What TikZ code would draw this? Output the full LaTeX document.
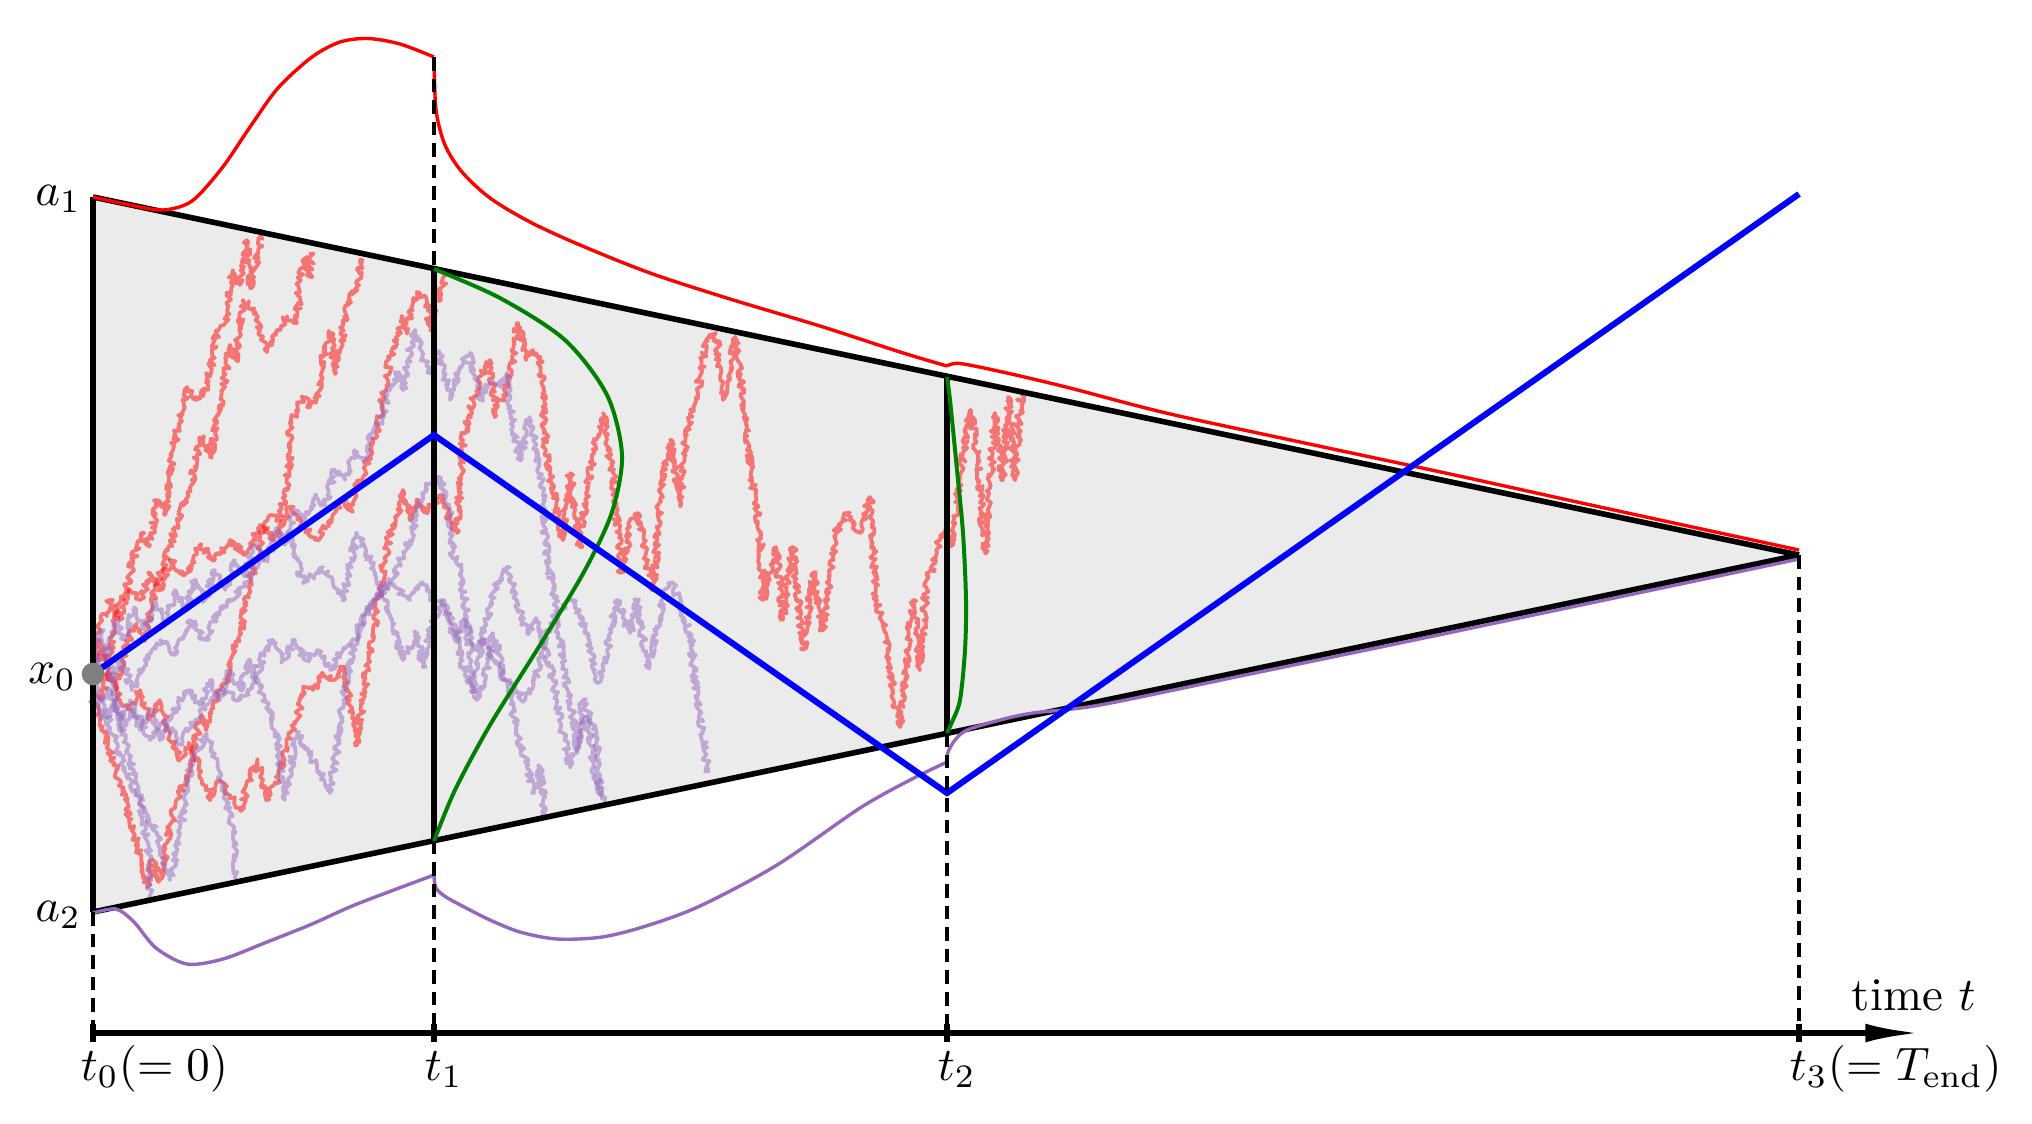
\documentclass[tikz,border=0pt]{standalone}
\usetikzlibrary{arrows.meta,decorations.pathmorphing}
\definecolor{fillgray}{HTML}{EBEBEB}
\definecolor{tabpurple}{HTML}{9467BD}
\definecolor{mplgreen}{HTML}{008000}
\definecolor{dotgray}{HTML}{808080}
\tikzset{
  bound/.style={line width=2.4pt, black},
  vdash/.style={line width=1.8pt, black, dash pattern=on 5.8pt off 3.4pt},
  walkred/.style={line width=1.6pt, red, opacity=0.5, line join=round, decorate, decoration={random steps, segment length=0.9pt, amplitude=1.5pt}},
  walkpur/.style={line width=1.6pt, tabpurple, opacity=0.5, line join=round, decorate, decoration={random steps, segment length=0.9pt, amplitude=1.5pt}},
  dens/.style={line width=1.45pt},
  lab/.style={inner sep=0pt, scale=2, transform shape},
}
\pgfmathsetseed{4242}
\begin{document}
\begin{tikzpicture}[x=0.015cm, y=-0.015cm]
\useasboundingbox (0,0) rectangle (2032,1123);
% key points
\coordinate (A1) at (93,197);
\coordinate (A2) at (93,912);
\coordinate (Tip) at (1799,555);
\coordinate (U1) at (434,268.6);
\coordinate (L1) at (434,840.6);
\coordinate (U2) at (947,376.2);
\coordinate (L2) at (947,733.3);
\coordinate (X0) at (93,674);
\coordinate (B1) at (434,435);
\coordinate (B2) at (947,793);
\coordinate (B3) at (1799,194);
\coordinate (R1end) at (434,57);
\coordinate (ax0) at (93,1033);
\coordinate (ax1) at (434,1033);
\coordinate (ax2) at (947,1033);
\coordinate (ax3) at (1799,1033);
\coordinate (axend) at (1920,1033);

% region
\fill[fillgray] (A1) -- (Tip) -- (A2) -- cycle;

% random walks, red
\draw[walkred] plot coordinates {(93,674) (100,655) (108,662) (118,610) (126,590) (133,560) (141,533) (150,545) (157,500) (165,515) (173,450) (180,420) (187,387) (196,400) (205,390) (213,357) (217,330) (227,317) (233,270) (240,285) (247,240) (250,287) (256,262) (263,232)};
\draw[walkred] plot coordinates {(93,690) (100,700) (108,672) (116,690) (125,650) (135,625) (145,640) (155,590) (165,560) (172,540) (178,520) (190,490) (198,450) (203,437) (210,457) (217,423) (223,390) (230,345) (236,360) (243,300) (253,310) (263,337) (267,352) (277,330) (287,317) (297,323) (300,277) (307,257) (310,277) (311,252)};
\draw[walkred] plot coordinates {(93,700) (100,720) (108,745) (116,770) (125,800) (133,830) (141,860) (147,887) (153,860) (160,880) (168,840) (176,800) (186,780) (193,760) (200,717) (206,730) (213,705) (220,690) (227,683) (233,650) (240,633) (250,583) (257,560) (263,533) (270,515) (280,520) (287,483) (290,450) (290,423) (297,410) (303,397) (310,407) (320,390) (323,357) (330,333) (336,373) (343,330) (350,300) (357,287) (360,258)};
\draw[walkred] plot coordinates {(93,660) (100,640) (110,680) (120,700) (130,710) (140,690) (150,720) (160,700) (170,735) (180,760) (190,745) (200,770) (210,800) (220,780) (230,795) (240,810) (250,780) (257,760) (266,800) (276,783) (283,760) (290,733) (297,720) (303,687) (313,690) (323,673) (333,680) (343,667) (350,700) (357,745) (363,700) (368,660) (373,633) (383,567) (390,533) (397,515) (403,490) (410,520) (418,500) (425,512) (433,505) (440,495) (450,520) (457,533) (460,480) (463,440) (473,400) (483,373) (490,360) (496,416) (503,395) (510,377) (518,323) (526,360) (533,350) (540,360) (546,450) (556,507) (563,540) (570,473) (575,510) (580,547) (586,493) (596,440) (603,413) (608,450) (613,473) (616,507) (621,573) (630,527) (638,513) (646,560) (653,590) (660,500) (670,440) (680,506) (686,433) (696,400) (706,340) (716,333) (723,400) (730,377) (735,337) (743,400) (752,480) (760,533) (763,600) (776,547) (783,620) (793,547) (803,650) (813,573) (823,630) (836,533) (846,513) (860,533) (870,497) (876,600) (886,633) (893,690) (900,727) (913,600) (920,670) (926,587) (940,540) (947,530) (953,545) (960,477) (970,410) (976,443) (985,553) (990,483) (995,413) (1003,480) (1008,397) (1015,480) (1021,392)};
\draw[walkred] plot coordinates {(93,640) (102,620) (110,600) (120,620) (130,590) (140,600) (150,575) (160,590) (170,560) (185,575) (200,545) (215,560) (230,540) (245,555) (260,525) (275,540) (290,507) (303,527) (317,540) (330,520) (343,500) (350,510) (357,483) (363,477) (373,443) (377,430) (383,397) (390,357) (397,340) (403,317) (407,333) (413,300) (420,293) (427,303) (430,330) (434,307) (438,290) (441,300) (444,276)};

% random walks, purple
\draw[walkpur] plot coordinates {(93,650) (100,630) (108,655) (116,620) (125,640) (133,610) (145,630) (155,600) (165,625) (175,590) (185,610) (195,580) (205,600) (215,570) (225,590) (235,560) (245,575) (255,545) (265,560) (275,530) (285,545) (295,510) (305,520) (315,495) (325,505) (335,470) (345,480) (355,450) (365,460) (373,430) (380,423) (390,390) (397,373) (403,390) (410,350) (415,330) (423,357) (430,373) (440,353) (450,400) (460,367) (470,353) (480,400) (490,383) (500,387) (507,373) (513,427) (520,460) (530,417) (537,450) (543,500) (545,533) (548,567) (553,583) (557,617) (563,667) (570,700) (577,750) (583,700) (590,717) (597,750) (600,797)};
\draw[walkpur] plot coordinates {(93,680) (100,700) (110,690) (120,720) (130,700) (140,730) (150,710) (160,740) (170,720) (180,700) (190,690) (200,705) (210,680) (220,700) (230,670) (240,690) (250,660) (257,683) (265,700) (273,717) (280,760) (285,800) (297,733) (307,750) (317,767) (330,793) (337,750) (343,700) (350,660) (357,633) (365,615) (373,600) (383,590) (390,583) (400,560) (410,540) (420,500) (430,483) (440,477) (450,513) (453,553) (460,567) (467,617) (470,667) (477,700) (487,667) (493,633) (507,683) (517,733) (527,767) (533,793) (540,767) (545,817)};
\draw[walkpur] plot coordinates {(93,670) (103,650) (112,680) (122,660) (132,690) (145,660) (160,640) (175,655) (190,620) (205,640) (220,610) (240,590) (260,560) (275,545) (290,533) (303,583) (323,567) (343,600) (357,533) (373,567) (390,617) (403,660) (417,633) (423,667) (433,620) (443,600) (457,633) (463,667) (473,693) (483,633) (497,583) (507,567) (517,600) (527,633) (537,620) (550,667) (557,700) (563,733) (570,767) (580,733) (587,717) (593,767) (600,790) (605,803)};
\draw[walkpur] plot coordinates {(93,700) (105,720) (115,700) (125,730) (135,710) (150,740) (165,720) (180,745) (195,720) (210,700) (225,690) (240,700) (256,683) (265,650) (273,640) (283,660) (295,640) (305,660) (317,650) (330,670) (343,650) (356,640) (373,600) (390,583) (410,600) (423,583) (433,600) (445,605) (455,640) (465,620) (475,650) (485,640) (495,660) (505,680) (515,690) (525,700) (535,680) (545,640) (555,617) (565,605) (573,600) (587,633) (597,683) (607,650) (617,600) (630,633) (637,600) (647,667) (657,633) (663,593) (673,583) (683,617) (690,633) (697,700) (703,733) (708,773)};
\draw[walkpur] plot coordinates {(93,650) (100,670) (110,667) (116,700) (123,733) (130,760) (140,800) (145,830) (150,860) (148,880) (152,900)};
\draw[walkpur] plot coordinates {(93,690) (105,710) (115,740) (125,770) (135,790) (145,810) (157,833) (163,860) (170,880) (175,860) (180,833) (185,800) (190,767) (198,750) (207,733) (212,750) (217,767) (223,783) (228,810) (233,833) (235,860) (237,877)};

% boundaries
\draw[bound] (A1) -- (Tip);
\draw[bound] (A2) -- (Tip);
\draw[bound] (A1) -- (A2);
\draw[bound] (U1) -- (L1);
\draw[bound] (U2) -- (L2);

% densities
\draw[dens, red] plot[smooth] coordinates {(93,197) (130,205) (163,210) (192,201) (222,168) (250,127) (278,88) (312,57) (340,42) (368,38.5) (400,44) (434,57)};
\draw[dens, red] plot[smooth] coordinates {(434,57) (436,110) (445,145) (462,172) (490,198) (530,222) (580,245) (650,273) (730,299) (820,326) (900,352) (947,366)};
\draw[dens, red] plot[smooth] coordinates {(947,366) (960,363.5) (1007,373) (1070,388) (1166,413) (1300,442) (1450,474) (1600,507) (1799,550)};
\draw[dens, tabpurple] plot[smooth] coordinates {(93,913) (116,909) (134,922) (156,948) (187,964) (223,959) (267,942) (312,924) (357,904) (434,875)};
\draw[dens, tabpurple] plot[smooth] coordinates {(434,876) (436,888) (446,897) (470,910) (490,920) (520,932) (557,939) (602,937) (646,926) (700,906) (777,865) (860,808) (910,780) (947,762)};
\draw[dens, tabpurple] plot[smooth] coordinates {(947,762) (948,752) (955,740) (967,730) (1000,720) (1033,713) (1100,705) (1250,674) (1400,643) (1600,601) (1799,559)};
\draw[line width=1.7pt, mplgreen] plot[smooth] coordinates {(434,269) (500,298) (565,340) (607,395) (622,455) (612,512) (585,570) (540,645) (490,725) (455,790) (434,841)};
\draw[line width=1.7pt, mplgreen] plot[smooth] coordinates {(947,377) (950,400) (956.7,467) (963,533) (966,600) (965,650) (960,700) (952,722) (947,733)};

% blue path
\draw[line width=2.6pt, blue, line join=miter] (X0) -- (B1) -- (B2) -- (B3);

% dashed verticals
\draw[vdash] (A2) -- (ax0);
\draw[vdash] (R1end) -- (U1);
\draw[vdash] (L1) -- (ax1);
\draw[vdash] (L2) -- (ax2);
\draw[vdash] (Tip) -- (ax3);

% start point
\fill[dotgray] (X0) circle[radius=0.17cm];

% time axis
\draw[line width=2.4pt, -{Latex[length=0.82cm,width=0.28cm]}] (ax0) -- (axend);
\foreach \p in {ax0,ax1,ax2,ax3} \draw[line width=2.4pt] ([yshift=0.14cm]\p) -- ([yshift=-0.14cm]\p);

% labels
\node[lab, anchor=east] (la1) at (82,199) {$a_1$};
\node[lab, anchor=east] (la2) at (82,915) {$a_2$};
\node[lab, anchor=east] (lx0) at (77,677) {$x_0$};
\node[lab, anchor=base west] (lt0) at (80,1080) {$t_0(=0)$};
\node[lab, anchor=base west] (lt1) at (424,1080) {$t_1$};
\node[lab, anchor=base west] (lt2) at (937,1080) {$t_2$};
\node[lab, anchor=base west] (lt3) at (1789,1080) {$t_3(=T_{\mathrm{end}})$};
\node[lab, anchor=base west] (ltime) at (1851,1010) {time $t$};
\end{tikzpicture}
\end{document}
